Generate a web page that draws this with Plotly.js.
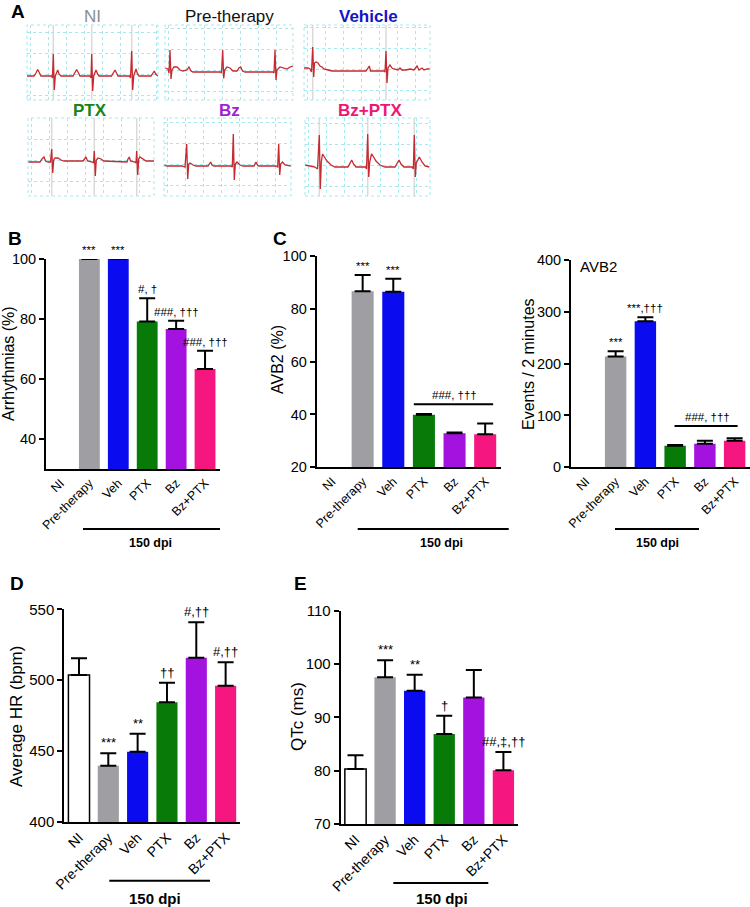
<!DOCTYPE html>
<html>
<head>
<meta charset="utf-8">
<script src="https://cdn.plot.ly/plotly-3.0.1.min.js"></script>
<style>html,body{margin:0;padding:0;background:#fff;}#chart{width:750px;height:907px;}</style>
</head>
<body>
<div id="chart"></div>
<script>
// ---------------- DATA ----------------
const categories = ['NI', 'Pre-therapy', 'Veh', 'PTX', 'Bz', 'Bz+PTX'];
const barColors = ['#ffffff', '#9e9ea3', '#0b0bf0', '#087a08', '#a412e0', '#f5167f'];

const arrhythmiaMean = [null, 100, 100, 79.2, 76.7, 63.3];
const arrhythmiaErr  = [null, null, null, 7.7, 2.7, 6.1];
const arrhythmiaSig  = ['', '***', '***', '#, †', '###, †††', '###, †††'];

const avb2PctMean = [null, 86.7, 86.5, 39.9, 32.9, 32.5];
const avb2PctErr  = [null, 6.1, 4.9, 0.3, 0.3, 4.1];
const avb2PctSig  = ['', '***', '***', '', '', ''];

const avb2EvMean = [null, 214, 282, 41.7, 45.6, 51];
const avb2EvErr  = [null, 10, 7.5, 1.5, 5.5, 5];
const avb2EvSig  = ['', '***', '***,†††', '', '', ''];

const hrMean = [503.7, 439.7, 449.6, 484.4, 515.9, 496.1];
const hrErr  = [11.7, 8.7, 12.7, 13.8, 24.9, 16.5];
const hrSig  = ['', '***', '**', '††', '#,††', '#,††'];

const qtcMean = [80.3, 97.5, 95.0, 86.9, 93.7, 80.1];
const qtcErr  = [2.6, 3.2, 3.0, 3.4, 5.2, 3.4];
const qtcSig  = ['', '***', '**', '†', '', '##,‡,††'];

const ecgTitles = ['NI', 'Pre-therapy', 'Vehicle', 'PTX', 'Bz', 'Bz+PTX'];
const ecgNI = [[0,0],[7,0],[9,3],[10.7,6.5],[12.5,3],[14,0],[24.5,0],[25.5,-2],[26.3,22],[27.3,-14],[28.3,0],[29.5,4],[30.7,6],[32,2],[34,0],[46,0],[48,3],[49.7,6.5],[51.5,3],[53,0],[63,0],[64,-2],[64.7,22],[65.7,-15],[66.7,0],[68,4],[69,6],[70.5,2],[72,0],[84.5,0],[86.5,3],[88,6],[89.5,3],[91,0],[102.5,0],[103.5,-2],[104.7,25],[105.7,-14],[106.7,0],[108,4],[109,7],[110.5,2],[112,0],[124,0],[126,3],[127.3,5],[128.7,2],[131,0]];
const ecgPre = [[0,4],[3,3],[4,-1],[5,22],[6,-7],[7,2],[9,5],[12,5],[15,2],[18,1],[22,2],[24,5],[26,1],[28,0],[55.5,0],[56.5,-1],[57.7,22],[58.7,-6.5],[59.7,2],[62,5],[65,4],[68,1],[72,1],[74,4],[75.7,5],[77.5,1],[80,0],[108,0],[109,-1],[110,22],[111,-8],[112,2],[115,5],[119,4],[122,3],[125,5],[128,6]];
const ecgVeh = [[0,3],[4,3],[6,2],[7.5,-1],[8.7,24],[9.7,-6],[10.5,8],[12,9],[14,8],[16,5],[18,4],[20,2],[24,1],[28,0],[62,0],[64,3],[65.3,5],[66.5,0],[80,0],[81,-1],[82,20],[83,-12],[84,3],[86,6],[88,3],[90,2],[94,1],[96,3],[98,1],[102,1],[106,2],[110,1],[113,5],[115,1],[118,3],[120,1],[123,2],[126,2]];
const ecgPTX = [[0,0],[12,0],[14,3],[16,5],[17.5,1],[20,0],[22.5,0],[23.7,13],[24.7,-11],[25.7,2],[27,4],[30,4],[33,2],[36,1],[55,1],[56.5,3],[58,5],[59.5,1],[64.5,0],[65.5,-1],[66.3,11],[67.3,-14],[68.3,2],[70,4],[73,3],[76,1],[99,0],[100,3],[101.3,5],[102.5,1],[107,0],[108,-1],[108.7,11],[109.7,-13],[110.7,3],[112,5],[115,3],[118,1],[126,1]];
const ecgBz = [[0,1],[3,0],[18,0],[21,-1],[22.7,22],[23.7,-13],[24.7,2],[26,3],[29,1],[32,0],[44,0],[45.5,3],[46.7,4],[48,1],[50,0],[67,0],[68.3,-1],[69.3,32],[70.3,-14],[71.3,2],[73,4],[76,1],[79,0],[90,0],[91,3],[92,4],[93.5,1],[95,0],[112,0],[113.7,-1],[114.7,22],[115.7,-9],[116.7,2],[118.5,4],[121,1],[127,0]];
const ecgBzPTX = [[0,2],[5,1],[10,0],[12.5,-2],[14.3,32],[15.3,-22],[16.3,5],[17.5,13],[19,11],[22,6],[26,2],[30,0],[43,0],[45,4],[46.7,7],[48.5,3],[51,0],[60.5,0],[61.5,-2],[62.7,33],[63.7,-10],[64.7,5],[66.5,13],[68,11],[71,6],[75,2],[80,0],[90,0],[92,4],[94,7],[96,3],[99,0],[107,0],[108.3,-2],[109.3,32],[110.3,-10],[111.3,4],[114.3,10],[117,5],[120,1],[124.3,0]];
const ecgMarks = [[26.3,64.7,104.7], [], [8.7,82], [23.7,66.3,108.7], [], [14.3,62.7,109.3]];

const W = 750, H = 907;
const FONT = 'Liberation Sans, Arial, Helvetica, sans-serif';
const fx = p => p / W;
const fy = p => 1 - p / H;

const data = [];
const layout = {
  width: W, height: H, margin: {l:0, r:0, t:0, b:0},
  paper_bgcolor: '#fff', plot_bgcolor: 'rgba(0,0,0,0)',
  showlegend: false, font: {family: FONT, color: '#000'},
  annotations: [], shapes: []
};
function ann(o) { layout.annotations.push(Object.assign({showarrow:false, font:{family:FONT, size:12, color:'#000'}}, o)); }

const ecgSeries = [ecgNI, ecgPre, ecgVeh, ecgPTX, ecgBz, ecgBzPTX];
const ecgBoxes = [
  {x0:27, x1:158, y0:25, y1:100, base:76, tx:92, ty:16},
  {x0:165, x1:293, y0:25, y1:100, base:72, tx:229, ty:16},
  {x0:304, x1:430, y0:25, y1:100, base:71, tx:368, ty:16},
  {x0:28, x1:154, y0:118, y1:196, base:162, tx:90, ty:111},
  {x0:164, x1:291, y0:118, y1:196, base:166, tx:229, ty:111},
  {x0:305, x1:430, y0:118, y1:196, base:167, tx:370, ty:111}
];
const ecgTitleStyle = [
  {color:'#8c8c8c', bold:false}, {color:'#111111', bold:false}, {color:'#1414c4', bold:true},
  {color:'#178417', bold:true}, {color:'#a01fd6', bold:true}, {color:'#f0166f', bold:true}
];
const gridCol = '#a4e9ee';
ecgBoxes.forEach((b, i) => {
  const n = i + 1;
  const xk = n === 1 ? 'xaxis' : 'xaxis' + n;
  const yk = n === 1 ? 'yaxis' : 'yaxis' + n;
  const xr = n === 1 ? 'x' : 'x' + n;
  const yr = n === 1 ? 'y' : 'y' + n;
  layout[xk] = {domain:[fx(b.x0), fx(b.x1)], anchor: yr, range:[0, b.x1 - b.x0],
    showgrid:true, gridcolor:gridCol, griddash:'dot', gridwidth:1, dtick:18, tick0:3,
    showticklabels:false, ticks:'', zeroline:false, showline:false, fixedrange:true};
  layout[yk] = {domain:[fy(b.y1), fy(b.y0)], anchor: xr, range:[-(b.y1 - b.base), b.base - b.y0],
    showgrid:true, gridcolor:gridCol, griddash:'dot', gridwidth:1, dtick:21, tick0:2,
    showticklabels:false, ticks:'', zeroline:false, showline:false, fixedrange:true};
  layout.shapes.push({type:'rect', xref:'paper', yref:'paper', x0:fx(b.x0), x1:fx(b.x1), y0:fy(b.y1), y1:fy(b.y0),
    line:{color:gridCol, width:1, dash:'dot'}});
  ecgMarks[i].forEach(t => layout.shapes.push({type:'line', xref: xr, yref:'paper', x0:t, x1:t, y0:fy(b.y1), y1:fy(b.y0),
    line:{color:'#dadada', width:1.5}, layer:'below'}));
  const s = ecgSeries[i];
  data.push({type:'scatter', mode:'lines', xaxis: xr, yaxis: yr,
    x: s.map(p => p[0]), y: s.map(p => p[1]),
    line:{color:'#c42a2f', width:1.3}, hoverinfo:'skip'});
  const st = ecgTitleStyle[i];
  ann({xref:'paper', yref:'paper', x: fx(b.tx), y: fy(b.ty), xanchor:'center', yanchor:'middle',
    text: st.bold ? '<b>' + ecgTitles[i] + '</b>' : ecgTitles[i], font:{family:FONT, size:17, color: st.color}});
});

const barPanels = [
  {n:7, fs:{tick:14.5, cat:12.5, sig:11.5, title:16, dpi:12.5}, mean:arrhythmiaMean, err:arrhythmiaErr, sig:arrhythmiaSig, x0:46, x1:219.5, y0:259, y1:469, range:[30,100], ticks:[40,60,80,100],
    title:'Arrhythmias (%)', tx:9, ty:364, dpi:{l0:83, l1:220, ly:529, tx:150, ty:543}},
  {n:8, fs:{tick:14.5, cat:12.5, sig:11.5, title:16, dpi:12.5}, mean:avb2PctMean, err:avb2PctErr, sig:avb2PctSig, x0:316.7, x1:500.5, y0:256, y1:467.3, range:[20,100], ticks:[20,40,60,80,100],
    title:'AVB2 (%)', tx:277, ty:360, dpi:{l0:357.7, l1:508.7, ly:529, tx:441.7, ty:543}},
  {n:9, fs:{tick:14.5, cat:12.5, sig:11.5, title:16, dpi:12.5}, mean:avb2EvMean, err:avb2EvErr, sig:avb2EvSig, x0:571, x1:749.5, y0:260, y1:467.3, range:[0,400], ticks:[0,100,200,300,400],
    title:'Events / 2 minutes', tx:529, ty:364, dpi:{l0:615, l1:699, ly:529, tx:657, ty:543}},
  {n:10, fs:{tick:15, cat:14, sig:13, title:17, dpi:15}, mean:hrMean, err:hrErr, sig:hrSig, x0:64.3, x1:240.3, y0:609.3, y1:822, range:[400,550], ticks:[400,450,500,550],
    title:'Average HR (bpm)', tx:16, ty:717, dpi:{l0:109.3, l1:210, ly:880.7, tx:155, ty:898}},
  {n:11, fs:{tick:15, cat:14, sig:13, title:17, dpi:15}, mean:qtcMean, err:qtcErr, sig:qtcSig, x0:340.7, x1:518.2, y0:610.7, y1:824, range:[70,110], ticks:[70,80,90,100,110],
    title:'QTc (ms)', tx:297, ty:717, dpi:{l0:393.3, l1:488.3, ly:883, tx:441.7, ty:898}}
];

barPanels.forEach(p => {
  const xr = 'x' + p.n, yr = 'y' + p.n;
  layout['xaxis' + p.n] = {domain:[fx(p.x0), fx(p.x1)], anchor: yr, type:'category',
    categoryorder:'array', categoryarray: categories, range:[-0.5, 5.5],
    showline:true, linecolor:'#000', linewidth:2, ticks:'', showgrid:false, zeroline:false,
    tickangle:-45, tickfont:{family:FONT, size:p.fs.cat, color:'#000'}, fixedrange:true};
  layout['yaxis' + p.n] = {domain:[fy(p.y1), fy(p.y0)], anchor: xr, range: p.range,
    tickvals: p.ticks, showline:true, linecolor:'#000', linewidth:2, ticks:'outside', ticklen:5,
    tickwidth:2, tickcolor:'#000', showgrid:false, zeroline:false,
    tickfont:{family:FONT, size:p.fs.tick, color:'#000'}, fixedrange:true};
  data.push({type:'bar', xaxis: xr, yaxis: yr, x: categories, y: p.mean, width:0.72,
    marker:{color: barColors, line:{color:'#000', width: categories.map((c, i) => i === 0 ? 1.5 : 0)}},
    error_y:{type:'data', symmetric:false, array: p.err, arrayminus: p.err.map(v => v == null ? null : 0),
      color:'#000', thickness:2, width:8},
    hoverinfo:'skip'});
  p.sig.forEach((s, i) => {
    if (!s) return;
    const top = (p.mean[i] || 0) + (p.err[i] || 0);
    ann({xref: xr, yref: yr, x: i, y: top, xanchor:'center', yanchor:'bottom', yshift:1,
      text: s, font:{family:FONT, size: p.fs.sig, color:'#000'}});
  });
  ann({xref:'paper', yref:'paper', x: fx(p.tx), y: fy(p.ty), xanchor:'center', yanchor:'middle',
    textangle:-90, text: p.title, font:{family:FONT, size:p.fs.title, color:'#000'}});
  layout.shapes.push({type:'line', xref:'paper', yref:'paper', x0: fx(p.dpi.l0), x1: fx(p.dpi.l1),
    y0: fy(p.dpi.ly), y1: fy(p.dpi.ly), line:{color:'#000', width:2}});
  ann({xref:'paper', yref:'paper', x: fx(p.dpi.tx), y: fy(p.dpi.ty), xanchor:'center', yanchor:'middle',
    text:'<b>150 dpi</b>', font:{family:FONT, size:p.fs.dpi, color:'#000'}});
});

layout.shapes.push({type:'line', xref:'x8', yref:'y8', x0:2.67, x1:5.26, y0:43.9, y1:43.9, line:{color:'#000', width:2}});
ann({xref:'x8', yref:'y8', x:4, y:43.9, xanchor:'center', yanchor:'bottom', yshift:1, text:'###, †††', font:{family:FONT, size:11.5, color:'#000'}});
layout.shapes.push({type:'line', xref:'x9', yref:'y9', x0:2.98, x1:5.1, y0:79.7, y1:79.7, line:{color:'#000', width:2}});
ann({xref:'x9', yref:'y9', x:4.1, y:79.7, xanchor:'center', yanchor:'bottom', yshift:1, text:'###, †††', font:{family:FONT, size:11.5, color:'#000'}});
ann({xref:'paper', yref:'paper', x: fx(578), y: fy(267), xanchor:'left', yanchor:'middle', text:'AVB2', font:{family:FONT, size:15, color:'#000'}});

[['A', 18, 11], ['B', 15, 238], ['C', 280, 238], ['D', 17, 583], ['E', 300, 583]].forEach(l => {
  ann({xref:'paper', yref:'paper', x: fx(l[1]), y: fy(l[2]), xanchor:'center', yanchor:'middle',
    text:'<b>' + l[0] + '</b>', font:{family:FONT, size:19, color:'#000'}});
});

Plotly.newPlot('chart', data, layout, {staticPlot:true, displayModeBar:false});
</script>
</body>
</html>
